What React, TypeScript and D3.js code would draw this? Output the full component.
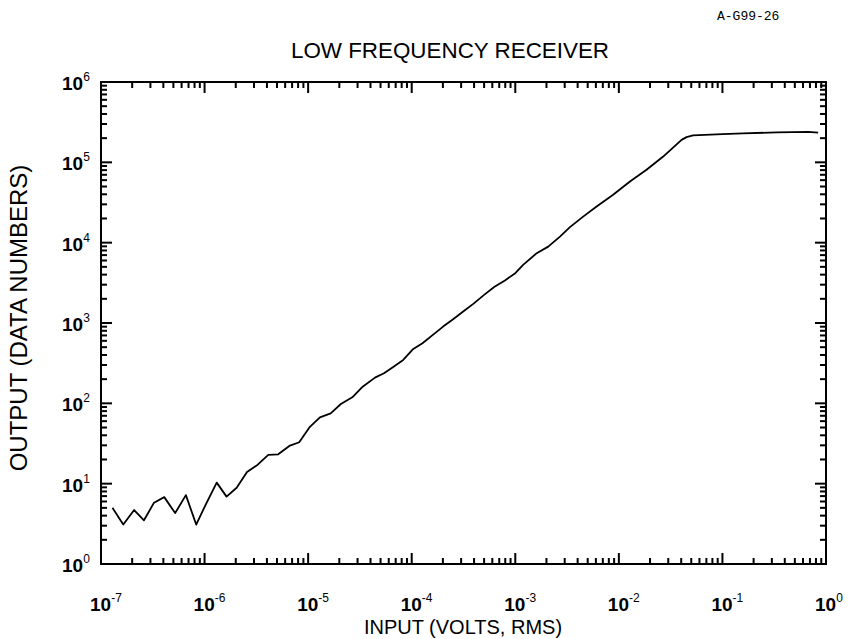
import React from "react";
import * as d3 from "d3";

const inputVolts: number[] = [
  1.29e-7, 1.64e-7, 2.09e-7, 2.6e-7, 3.25e-7, 4.08e-7, 5.2e-7, 6.6e-7, 8.3e-7,
  1.04e-6, 1.31e-6, 1.63e-6, 2.04e-6, 2.57e-6, 3.24e-6, 4.12e-6, 5.14e-6, 6.58e-6, 8.2e-6,
  1.04e-5, 1.3e-5, 1.65e-5, 2.07e-5, 2.67e-5, 3.36e-5, 4.42e-5, 5.4e-5, 6.68e-5, 8.28e-5,
  1.035e-4, 1.27e-4, 1.6e-4, 2.01e-4, 2.51e-4, 3.14e-4, 3.93e-4, 5.0e-4, 6.3e-4, 7.94e-4,
  1.0e-3, 1.19e-3, 1.61e-3, 2.08e-3, 2.7e-3, 3.37e-3, 4.52e-3, 6.1e-3, 8.8e-3,
  1.28e-2, 1.85e-2, 2.68e-2, 4.03e-2, 4.5e-2, 5.2e-2,
  0.1, 0.158, 0.333, 0.676, 0.84,
];
const outputDN: number[] = [
  5.0, 3.1, 4.7, 3.5, 5.8, 6.8, 4.3, 7.2, 3.1,
  5.7, 10.3, 6.9, 8.9, 14.0, 17.1, 22.8, 23.2, 29.5, 32.8,
  51, 67, 75, 98, 119, 161, 209, 237, 286, 347,
  476, 560, 711, 902, 1115, 1387, 1730, 2240, 2820, 3390,
  4170, 5300, 7400, 8930, 11900, 15600, 21100, 28200, 39400,
  57700, 80700, 118000, 190500, 206000, 216000,
  224000, 229000, 236000, 240000, 234000,
];

const xDecades: number[] = [-7, -6, -5, -4, -3, -2, -1, 0];
const yDecades: number[] = [0, 1, 2, 3, 4, 5, 6];
const xMinorTicks: number[] = [
  2e-7, 3e-7, 4e-7, 5e-7, 6e-7, 7e-7, 8e-7, 9e-7,
  2e-6, 3e-6, 4e-6, 5e-6, 6e-6, 7e-6, 8e-6, 9e-6,
  2e-5, 3e-5, 4e-5, 5e-5, 6e-5, 7e-5, 8e-5, 9e-5,
  2e-4, 3e-4, 4e-4, 5e-4, 6e-4, 7e-4, 8e-4, 9e-4,
  2e-3, 3e-3, 4e-3, 5e-3, 6e-3, 7e-3, 8e-3, 9e-3,
  2e-2, 3e-2, 4e-2, 5e-2, 6e-2, 7e-2, 8e-2, 9e-2,
  0.2, 0.3, 0.4, 0.5, 0.6, 0.7, 0.8, 0.9,
];
const yMinorTicks: number[] = [
  2, 3, 4, 5, 6, 7, 8, 9,
  20, 30, 40, 50, 60, 70, 80, 90,
  200, 300, 400, 500, 600, 700, 800, 900,
  2000, 3000, 4000, 5000, 6000, 7000, 8000, 9000,
  2e4, 3e4, 4e4, 5e4, 6e4, 7e4, 8e4, 9e4,
  2e5, 3e5, 4e5, 5e5, 6e5, 7e5, 8e5, 9e5,
];

const title = "LOW FREQUENCY RECEIVER";
const xTitle = "INPUT (VOLTS, RMS)";
const yTitle = "OUTPUT (DATA NUMBERS)";
const figId = "A-G99-26";

export default function App() {
  const W = 849, H = 639;
  const left = 101, right = 826, top = 82, bottom = 564;
  const x = d3.scaleLog().domain([1e-7, 1]).range([left, right]);
  const y = d3.scaleLog().domain([1, 1e6]).range([bottom, top]);

  const data = inputVolts.map((v, i) => [v, outputDN[i]] as [number, number]);
  const line = d3.line<[number, number]>().x(d => x(d[0])).y(d => y(d[1]));

  const majorLen = 11, minorLen = 6;
  const font = "'Liberation Sans', Arial, sans-serif";
  const ink = "#000";
  const tw = 2;

  return (
    <svg width={W} height={H} style={{ display: "block", position: "absolute", left: 0, top: 0, background: "#fff" }}>
      <rect x={0} y={0} width={W} height={H} fill="#fff" />
      <text x={717} y={20} fontFamily="'Liberation Mono', 'DejaVu Sans Mono', monospace" fontSize={13} fill={ink}>{figId}</text>
      <text x={450} y={58} textAnchor="middle" fontFamily={font} fontSize={22.4} fill={ink}>{title}</text>

      <rect x={left} y={top} width={right - left} height={bottom - top} fill="none" stroke={ink} strokeWidth={2} />

      <path d={line(data) || ""} fill="none" stroke={ink} strokeWidth={1.8} strokeLinejoin="round" />

      {xDecades.map((e) => (
        <text key={"xl" + e} x={x(Math.pow(10, e)) - 11} y={611} fontFamily={font} fontWeight="bold" fontSize={19} fill={ink}>
          10<tspan dy={-9} fontSize={12} fontWeight="normal">{String(e)}</tspan>
        </text>
      ))}
      {yDecades.map((e) => (
        <text key={"yl" + e} x={62} y={y(Math.pow(10, e)) + 8} fontFamily={font} fontWeight="bold" fontSize={19} fill={ink}>
          10<tspan dy={-9} fontSize={12} fontWeight="normal">{String(e)}</tspan>
        </text>
      ))}

      <text x={463} y={634} textAnchor="middle" fontFamily={font} fontSize={20} fill={ink}>{xTitle}</text>
      <text transform={`translate(27,318) rotate(-90)`} textAnchor="middle" fontFamily={font} fontSize={24} fill={ink}>{yTitle}</text>

      {xMinorTicks.map((v, i) => (
        <g key={"xm" + i}>
          <rect x={x(v) - tw / 2} y={bottom - minorLen} width={tw} height={minorLen} fill={ink} />
          <rect x={x(v) - tw / 2} y={top} width={tw} height={minorLen} fill={ink} />
        </g>
      ))}
      {xDecades.map((e) => (
        <g key={"xM" + e}>
          <rect x={x(Math.pow(10, e)) - tw / 2} y={bottom - majorLen} width={tw} height={majorLen} fill={ink} />
          <rect x={x(Math.pow(10, e)) - tw / 2} y={top} width={tw} height={majorLen} fill={ink} />
        </g>
      ))}
      {yMinorTicks.map((v, i) => (
        <g key={"ym" + i}>
          <rect x={left} y={y(v) - tw / 2} width={minorLen} height={tw} fill={ink} />
          <rect x={right - minorLen} y={y(v) - tw / 2} width={minorLen} height={tw} fill={ink} />
        </g>
      ))}
      {yDecades.map((e) => (
        <g key={"yM" + e}>
          <rect x={left} y={y(Math.pow(10, e)) - tw / 2} width={majorLen} height={tw} fill={ink} />
          <rect x={right - majorLen} y={y(Math.pow(10, e)) - tw / 2} width={majorLen} height={tw} fill={ink} />
        </g>
      ))}
    </svg>
  );
}
